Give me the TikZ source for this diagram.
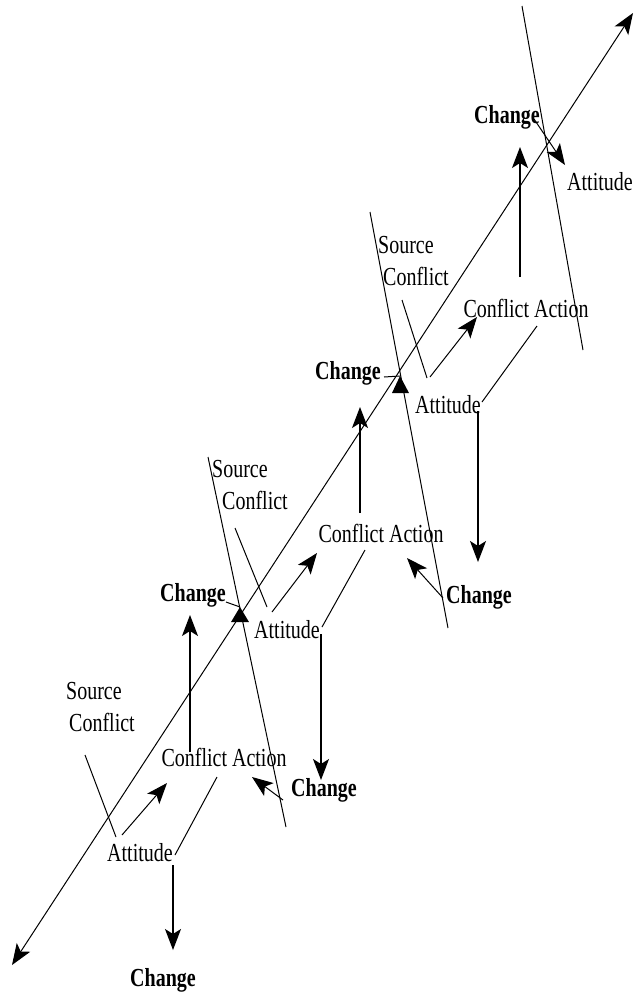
\documentclass[tikz,border=0pt]{standalone}
\usepackage{fontspec}
\setmainfont{Liberation Serif}
\usepackage{graphicx}
\usetikzlibrary{arrows.meta}
\newcommand{\vs}[1]{\scalebox{1}[1.3]{#1}}
\tikzset{
 lbl/.style={inner sep=0pt, font=\fontsize{20}{32}\selectfont},
 chg/.style={inner sep=0pt, font=\bfseries\fontsize{20}{24}\selectfont},
 src/.style={inner sep=0pt, align=left, anchor=west, font=\fontsize{20}{32}\selectfont},
 ln/.style={line width=1pt},
 tip/.tip={Stealth[length=21pt,width=16pt,inset=5pt]},
 arr/.style={line width=1pt, -tip},
 varr/.style={line width=1.3pt, -tip},
 tri/.style={fill=black},
}
\begin{document}
\begin{tikzpicture}[x=1pt,y=-1pt]
\useasboundingbox[fill=white] (0,0) rectangle (635,994);

% ---------- text nodes ----------
% unit 1
\node[src] (sc1) at (66,707) {\vs{Source}\\\hspace*{3pt}\vs{Conflict}};
\node[lbl] (at1) at (140,853) {\vs{Attitude}};
\node[lbl] (ca1) at (224,757) {\vs{Conflict Action}};
\node[chg] (chb1) at (163,980) {\vs{Change}};
\node[chg] (ch2) at (193,595) {\vs{Change}};
\node[chg] (chr1) at (324,790) {\vs{Change}};
% unit 2
\node[src] (sc2) at (212,485) {\vs{Source}\\\hspace*{10pt}\vs{Conflict}};
\node[lbl] (at2) at (287,630) {\vs{Attitude}};
\node[lbl] (ca2) at (381,533) {\vs{Conflict Action}};
\node[chg] (ch3) at (348,373) {\vs{Change}};
% unit 3
\node[src] (sc3) at (378,261) {\vs{Source}\\\hspace*{5pt}\vs{Conflict}};
\node[lbl] (at3) at (448,405) {\vs{Attitude}};
\node[lbl] (ca3) at (526,308) {\vs{Conflict Action}};
\node[chg] (chr3) at (479,597) {\vs{Change}};
\node[chg] (ch4) at (507,117) {\vs{Change}};
% top
\node[lbl] (at4) at (600,182) {\vs{Attitude}};

% ---------- coordinates ----------
\coordinate (d1) at (12,965);   \coordinate (d2) at (633,13);
\coordinate (s1a) at (208,457); \coordinate (s1b) at (286,827);
\coordinate (s2a) at (370,212); \coordinate (s2b) at (448,628);
\coordinate (s3a) at (522,6);   \coordinate (s3b) at (583,350);
% unit 1
\coordinate (u1a) at (85,755);  \coordinate (u1b) at (116,837);
\coordinate (u1c) at (122,835); \coordinate (u1d) at (167,783);
\coordinate (u1e) at (217,777); \coordinate (u1f) at (175,855);
\coordinate (u1g) at (173,865); \coordinate (u1h) at (173,950);
\coordinate (u1i) at (190,752); \coordinate (u1j) at (190,615);
\coordinate (u1k) at (283,800); \coordinate (u1l) at (252,777);
\coordinate (t2a) at (226,602); \coordinate (t2)  at (240,607);
% unit 2
\coordinate (u2a) at (235,528); \coordinate (u2b) at (267,607);
\coordinate (u2c) at (272,612); \coordinate (u2d) at (317,553);
\coordinate (u2e) at (365,550); \coordinate (u2f) at (322,627);
\coordinate (u2g) at (321,634); \coordinate (u2h) at (321,780);
\coordinate (u2i) at (360,513); \coordinate (u2j) at (360,407);
\coordinate (u2k) at (443,598); \coordinate (u2l) at (407,558);
\coordinate (t3a) at (384,377); \coordinate (t3)  at (400,376);
% unit 3
\coordinate (u3a) at (402,300); \coordinate (u3b) at (427,378);
\coordinate (u3c) at (430,377); \coordinate (u3d) at (477,317);
\coordinate (u3e) at (537,326); \coordinate (u3f) at (482,402);
\coordinate (u3g) at (478,411); \coordinate (u3h) at (478,562);
\coordinate (u3i) at (520,277); \coordinate (u3j) at (520,147);
% top
\coordinate (u4a) at (534,119); \coordinate (u4b) at (565,165);

% ---------- lines ----------
\draw[ln, tip-tip] (d1) -- (d2);
\draw[ln] (s1a) -- (s1b);
\draw[ln] (s2a) -- (s2b);
\draw[ln] (s3a) -- (s3b);

% unit 1
\draw[ln] (u1a) -- (u1b);
\draw[arr] (u1c) -- (u1d);
\draw[ln] (u1e) -- (u1f);
\draw[varr] (u1g) -- (u1h);
\draw[varr] (u1i) -- (u1j);
\draw[arr] (u1k) -- (u1l);
\draw[ln] (t2a) -- (t2);
\fill[tri] (t2) -- ++(-9,15) -- ++(18,0) -- cycle;
% unit 2
\draw[ln] (u2a) -- (u2b);
\draw[arr] (u2c) -- (u2d);
\draw[ln] (u2e) -- (u2f);
\draw[varr] (u2g) -- (u2h);
\draw[varr] (u2i) -- (u2j);
\draw[arr] (u2k) -- (u2l);
\draw[ln] (t3a) -- (t3);
\fill[tri] (t3) -- ++(-8,17) -- ++(17,0) -- cycle;
% unit 3
\draw[ln] (u3a) -- (u3b);
\draw[arr] (u3c) -- (u3d);
\draw[ln] (u3e) -- (u3f);
\draw[varr] (u3g) -- (u3h);
\draw[varr] (u3i) -- (u3j);
% top
\draw[arr] (u4a) -- (u4b);
\end{tikzpicture}
\end{document}
